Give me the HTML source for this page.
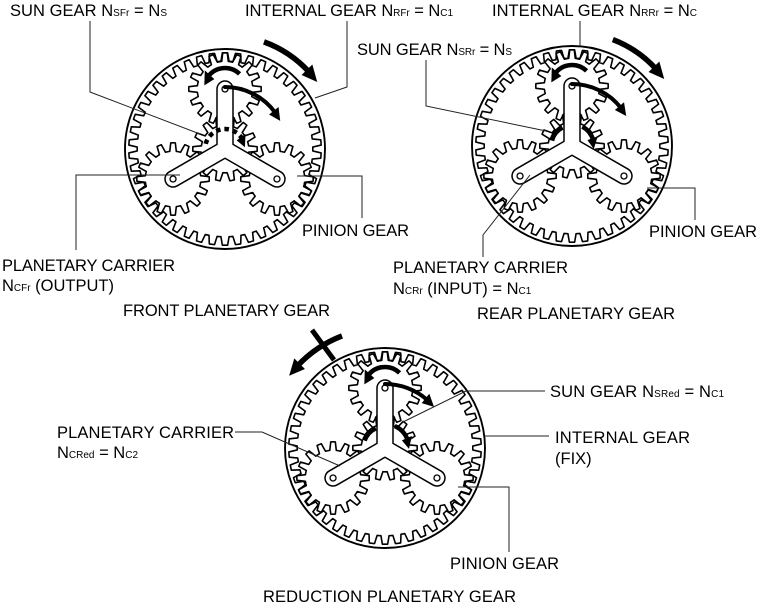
<!DOCTYPE html>
<html>
<head>
<meta charset="utf-8">
<style>
  html,body{margin:0;padding:0;background:#fff;}
  svg{display:block;}
  text{font-family:"Liberation Sans",Arial,sans-serif;font-size:16.5px;fill:#000;}
  .sub{font-size:10px;}
  .lead{fill:none;stroke:#222;stroke-width:1;}
</style>
</head>
<body>
<svg id="s" width="774" height="606" viewBox="0 0 774 606" xmlns="http://www.w3.org/2000/svg">
  <rect x="0" y="0" width="774" height="606" fill="#fff"/>
  <g id="gears"></g>

  <!-- leader lines: front -->
  <polyline class="lead" points="90,21 90,92 200,134"/>
  <polyline class="lead" points="347,21 347,87 315,98"/>
  <polyline class="lead" points="180,175 76,175 76,250"/>
  <polyline class="lead" points="297,176 362,176 362,218"/>
  <!-- leader lines: rear -->
  <polyline class="lead" points="580,21 580,46"/>
  <polyline class="lead" points="426,60 426,106 546,131"/>
  <polyline class="lead" points="530,175 483,235 483,257"/>
  <polyline class="lead" points="647,188 695,188 695,220"/>
  <!-- leader lines: reduction -->
  <polyline class="lead" points="545,391 466,391 403,422"/>
  <polyline class="lead" points="485,436 549,436"/>
  <polyline class="lead" points="235,432 262,432 340,466"/>
  <polyline class="lead" points="458,487 509,487 509,552"/>

  <!-- labels -->
  <text x="10" y="16" textLength="157" lengthAdjust="spacing">SUN GEAR N<tspan class="sub">SFr</tspan> = N<tspan class="sub">S</tspan></text>
  <text x="245" y="16" textLength="208" lengthAdjust="spacing">INTERNAL GEAR N<tspan class="sub">RFr</tspan> = N<tspan class="sub">C1</tspan></text>
  <text x="492" y="16" textLength="205" lengthAdjust="spacing">INTERNAL GEAR N<tspan class="sub">RRr</tspan> = N<tspan class="sub">C</tspan></text>
  <text x="357" y="55" textLength="155" lengthAdjust="spacing">SUN GEAR N<tspan class="sub">SRr</tspan> = N<tspan class="sub">S</tspan></text>
  <text x="302" y="236" textLength="107" lengthAdjust="spacing">PINION GEAR</text>
  <text x="2" y="271" textLength="173" lengthAdjust="spacing">PLANETARY CARRIER</text>
  <text x="2" y="291">N<tspan class="sub">CFr</tspan> (OUTPUT)</text>
  <text x="123" y="316" textLength="207" lengthAdjust="spacing">FRONT PLANETARY GEAR</text>
  <text x="649" y="237" textLength="108" lengthAdjust="spacing">PINION GEAR</text>
  <text x="393" y="273" textLength="175" lengthAdjust="spacing">PLANETARY CARRIER</text>
  <text x="393" y="294">N<tspan class="sub">CRr</tspan> (INPUT) = N<tspan class="sub">C1</tspan></text>
  <text x="477" y="319" textLength="198" lengthAdjust="spacing">REAR PLANETARY GEAR</text>
  <text x="550" y="397" textLength="174" lengthAdjust="spacing">SUN GEAR N<tspan class="sub">SRed</tspan> = N<tspan class="sub">C1</tspan></text>
  <text x="57" y="438" textLength="177" lengthAdjust="spacing">PLANETARY CARRIER</text>
  <text x="57" y="458">N<tspan class="sub">CRed</tspan> = N<tspan class="sub">C2</tspan></text>
  <text x="555" y="443" textLength="135" lengthAdjust="spacing">INTERNAL GEAR</text>
  <text x="555" y="464">(FIX)</text>
  <text x="450" y="569" textLength="109" lengthAdjust="spacing">PINION GEAR</text>
  <text x="263" y="602" textLength="253" lengthAdjust="spacing">REDUCTION PLANETARY GEAR</text>
</svg>

<script>
(function(){
  var NS='http://www.w3.org/2000/svg';
  var G=document.getElementById('gears');
  var RAD=Math.PI/180;
  function el(tag,attrs,parent){
    var e=document.createElementNS(NS,tag);
    for(var k in attrs){e.setAttribute(k,attrs[k]);}
    (parent||G).appendChild(e);return e;
  }
  function mod(a,b){return ((a%b)+b)%b;}
  function f2(v){return v.toFixed(2);}
  function gearD(cx,cy,n,rRoot,rTip,ph){
    var P=360/n, pts=[];
    var prof=[[-0.5,0],[-0.3,0],[-0.16,1],[0,1],[0.16,1],[0.3,0]];
    for(var k=0;k<n;k++){
      var a0=ph+k*P;
      for(var i=0;i<prof.length;i++){
        var a=(a0+prof[i][0]*P)*RAD, r=prof[i][1]?rTip:rRoot;
        pts.push(f2(cx+r*Math.cos(a))+','+f2(cy+r*Math.sin(a)));
      }
    }
    return 'M'+pts.join('L')+'Z';
  }
  function arcArrow(cx,cy,r,a1,a2,w,hl,hw,opts){
    opts=opts||{};
    var dir=a2>a1?1:-1;
    var hlDeg=hl?(hl/r)/RAD:0;
    var aEnd=a2-dir*hlDeg*0.8;
    function p(a,rr){return [cx+rr*Math.cos(a*RAD),cy+rr*Math.sin(a*RAD)];}
    var s=p(a1,r), e=p(aEnd,r);
    var large=Math.abs(aEnd-a1)>180?1:0, sweep=dir>0?1:0;
    var attrs={d:'M'+f2(s[0])+','+f2(s[1])+'A'+r+','+r+' 0 '+large+' '+sweep+' '+f2(e[0])+','+f2(e[1]),
      fill:'none',stroke:'#000','stroke-width':w,'stroke-linecap':opts.cap||'butt'};
    if(opts.dash){attrs['stroke-dasharray']=opts.dash;}
    el('path',attrs);
    if(hl){
      var ab=a2-dir*hlDeg;
      var t=p(a2,r), b1=p(ab,r-hw/2), b2=p(ab,r+hw/2);
      el('polygon',{points:f2(t[0])+','+f2(t[1])+' '+f2(b1[0])+','+f2(b1[1])+' '+f2(b2[0])+','+f2(b2[1]),fill:'#000'});
    }
  }
  function assembly(cx,cy){
    var S=14,Pn=16,R=46,m=4,ad=4.2;
    var rs=m*S/2, rp=m*Pn/2, rr=m*R/2, D=rs+rp;
    el('circle',{cx:cx,cy:cy,r:100,fill:'#fff',stroke:'#000','stroke-width':1.9});
    var Ps=360/S,Pp=360/Pn,Pr=360/R;
    var a0=-90+Ps/2;
    var c0=null, pins=[], phis=[-90,150,30];
    for(var i=0;i<3;i++){
      var phi=phis[i];
      var f=mod((phi-a0)/Ps,1);
      var g=mod(0.5-f,1);
      var b0=phi+180-g*Pp;
      var gp=mod((phi-b0)/Pp,1);
      var h=mod(gp+0.5,1);
      if(c0===null){c0=phi-h*Pr;}
      pins.push([cx+D*Math.cos(phi*RAD),cy+D*Math.sin(phi*RAD),b0]);
    }
    var gs={fill:'none',stroke:'#000','stroke-width':1.6,'stroke-linejoin':'round'};
    var a={}; for(var k in gs)a[k]=gs[k];
    a.d=gearD(cx,cy,R,rr+ad,rr-ad,c0); el('path',a);
    for(var j=0;j<pins.length;j++){
      var b={}; for(var k2 in gs)b[k2]=gs[k2];
      b.d=gearD(pins[j][0],pins[j][1],Pn,rp-ad,rp+ad,pins[j][2]); el('path',b);
    }
    var c={}; for(var k3 in gs)c[k3]=gs[k3];
    c.d=gearD(cx,cy,S,rs-ad,rs+ad,a0); el('path',c);

    // carrier
    var w=8, kk=w/Math.sin(Math.PI/3), c30=Math.cos(Math.PI/6), s30=0.5;
    var P2=[cx-D*c30,cy+D*s30], P3=[cx+D*c30,cy+D*s30];
    var A=[cx-kk*c30,cy-kk*s30], B=[cx+kk*c30,cy-kk*s30], Dp=[cx,cy+kk];
    var R3a=[P3[0]+w*s30,P3[1]-w*c30], R3b=[P3[0]-w*s30,P3[1]+w*c30];
    var L2a=[P2[0]+w*s30,P2[1]+w*c30], L2b=[P2[0]-w*s30,P2[1]-w*c30];
    function pt(q){return f2(q[0])+','+f2(q[1]);}
    var d='M'+pt(A)+'L'+f2(cx-w)+','+f2(cy-D)+'A'+w+','+w+' 0 0 1 '+f2(cx+w)+','+f2(cy-D)+
      'L'+pt(B)+'L'+pt(R3a)+'A'+w+','+w+' 0 0 1 '+pt(R3b)+'L'+pt(Dp)+'L'+pt(L2a)+
      'A'+w+','+w+' 0 0 1 '+pt(L2b)+'Z';
    el('path',{d:d,fill:'#fff',stroke:'#000','stroke-width':1.5,'stroke-linejoin':'round'});
    el('circle',{cx:cx,cy:cy-D,r:3,fill:'#fff',stroke:'#000','stroke-width':1.3});
    el('circle',{cx:P2[0],cy:P2[1],r:3,fill:'#fff',stroke:'#000','stroke-width':1.3});
    el('circle',{cx:P3[0],cy:P3[1],r:3,fill:'#fff',stroke:'#000','stroke-width':1.3});
  }

  // FRONT
  var fx=225, fy=149;
  assembly(fx,fy);
  arcArrow(fx,fy,114,-70,-36,5.5,16,15);
  arcArrow(fx,fy-60,21,-46,-170,4.5,12,13);
  arcArrow(fx,fy,62,-90,-27,4,12,12,{cap:'round'});
  arcArrow(fx,fy,20,-165,-5,4.5,11,11,{dash:'4.5 4'});

  // REAR
  var rx=572, ry=146;
  assembly(rx,ry);
  arcArrow(rx,ry,114,-69,-36,5.5,16,15);
  arcArrow(rx,ry-60,21,-46,-170,4.5,12,13);
  arcArrow(rx,ry,62,-90,-29,4,12,12,{cap:'round'});
  arcArrow(rx,ry,21,-165,-117,5,0,0);
  arcArrow(rx,ry,22,-62,8,4.5,11,11);

  // REDUCTION
  var bx=385, by=448;
  assembly(bx,by);
  arcArrow(bx,by,120,-111,-143,5.5,16,15);
  el('line',{x1:312,y1:330,x2:334,y2:360,stroke:'#000','stroke-width':5});
  arcArrow(bx,by-60,21,-46,-170,4.5,12,13);
  arcArrow(bx,by,64,-90,-40,4,12,12,{cap:'round'});
  arcArrow(bx,by,22,-160,-115,5,0,0);
  arcArrow(bx,by,24,-66,2,4.5,11,11);
})();
</script>
</body>
</html>
